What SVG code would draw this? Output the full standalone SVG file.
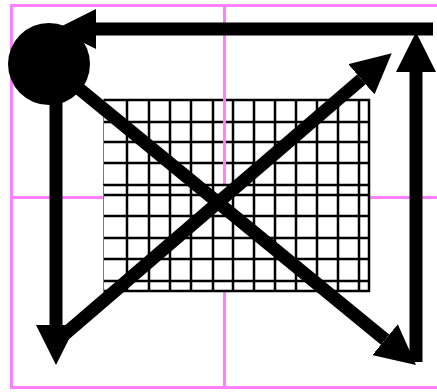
<svg xmlns="http://www.w3.org/2000/svg" width="437" height="392" viewBox="0 0 437 392">
<style>
.pink{stroke:#ff80ff;stroke-width:3;fill:none}
.grid line{stroke:#000;stroke-width:2.5}
.conn{stroke:#000;stroke-width:13;fill:none;marker-end:url(#ah)}
</style>
<defs>
<marker id="ah" markerUnits="userSpaceOnUse" viewBox="0 0 40 40" markerWidth="40" markerHeight="40" refX="0" refY="20" orient="auto">
<path d="M0,0 L40,20 L0,40 z" fill="#000"/>
</marker>
</defs>
<rect width="437" height="392" fill="#fff"/>
<g id="grid-upper" class="grid">
<line x1="104" y1="100" x2="370" y2="100"/>
<line x1="104" y1="122" x2="369" y2="122"/>
<line x1="104" y1="142" x2="369" y2="142"/>
<line x1="104" y1="163" x2="369" y2="163"/>
<line x1="127" y1="100" x2="127" y2="186"/>
<line x1="149" y1="100" x2="149" y2="186"/>
<line x1="170" y1="100" x2="170" y2="186"/>
<line x1="191" y1="100" x2="191" y2="186"/>
<line x1="213" y1="100" x2="213" y2="186"/>
<line x1="233" y1="100" x2="233" y2="186"/>
<line x1="254" y1="100" x2="254" y2="186"/>
<line x1="275" y1="100" x2="275" y2="186"/>
<line x1="296" y1="100" x2="296" y2="186"/>
<line x1="317" y1="100" x2="317" y2="186"/>
<line x1="338" y1="100" x2="338" y2="186"/>
<line x1="359" y1="100" x2="359" y2="186"/>
<line x1="369" y1="99" x2="369" y2="186"/>
<line x1="103.5" y1="99" x2="103.5" y2="186" style="stroke:#777;stroke-width:1"/>
</g>
<g id="frame">
<rect class="pink" x="11.5" y="5.5" width="430" height="382"/>
<line class="pink" x1="224.5" y1="5" x2="224.5" y2="388"/>
<line class="pink" x1="11" y1="197.5" x2="437" y2="197.5"/>
</g>
<g id="grid-lower" class="grid">
<rect x="104" y="185" width="265" height="106" fill="#fff"/>
<line x1="103" y1="185" x2="370" y2="185"/>
<line x1="104" y1="195" x2="369" y2="195"/>
<line x1="104" y1="216" x2="369" y2="216"/>
<line x1="104" y1="238" x2="369" y2="238"/>
<line x1="104" y1="259" x2="369" y2="259"/>
<line x1="104" y1="281" x2="369" y2="281"/>
<line x1="104" y1="291" x2="370" y2="291"/>
<line x1="127" y1="185" x2="127" y2="291"/>
<line x1="149" y1="185" x2="149" y2="291"/>
<line x1="170" y1="185" x2="170" y2="291"/>
<line x1="191" y1="185" x2="191" y2="291"/>
<line x1="213" y1="185" x2="213" y2="291"/>
<line x1="233" y1="185" x2="233" y2="291"/>
<line x1="254" y1="185" x2="254" y2="291"/>
<line x1="275" y1="185" x2="275" y2="291"/>
<line x1="296" y1="185" x2="296" y2="291"/>
<line x1="317" y1="185" x2="317" y2="291"/>
<line x1="338" y1="185" x2="338" y2="291"/>
<line x1="359" y1="185" x2="359" y2="291"/>
<line x1="369" y1="185" x2="369" y2="292"/>
<line x1="103.5" y1="185" x2="103.5" y2="292" style="stroke:#777;stroke-width:1"/>
</g>
<g id="connectors">
<line class="conn" x1="433" y1="29" x2="96" y2="29"/>
<line class="conn" x1="416" y1="362" x2="416" y2="72"/>
<line class="conn" x1="49" y1="64" x2="385.1" y2="339.6"/>
<line class="conn" x1="58" y1="340" x2="361.4" y2="79.4"/>
<line class="conn" x1="56" y1="64" x2="56" y2="325"/>
</g>
<g id="start-node">
<circle cx="49" cy="64" r="41" fill="#000"/>
</g>
</svg>
